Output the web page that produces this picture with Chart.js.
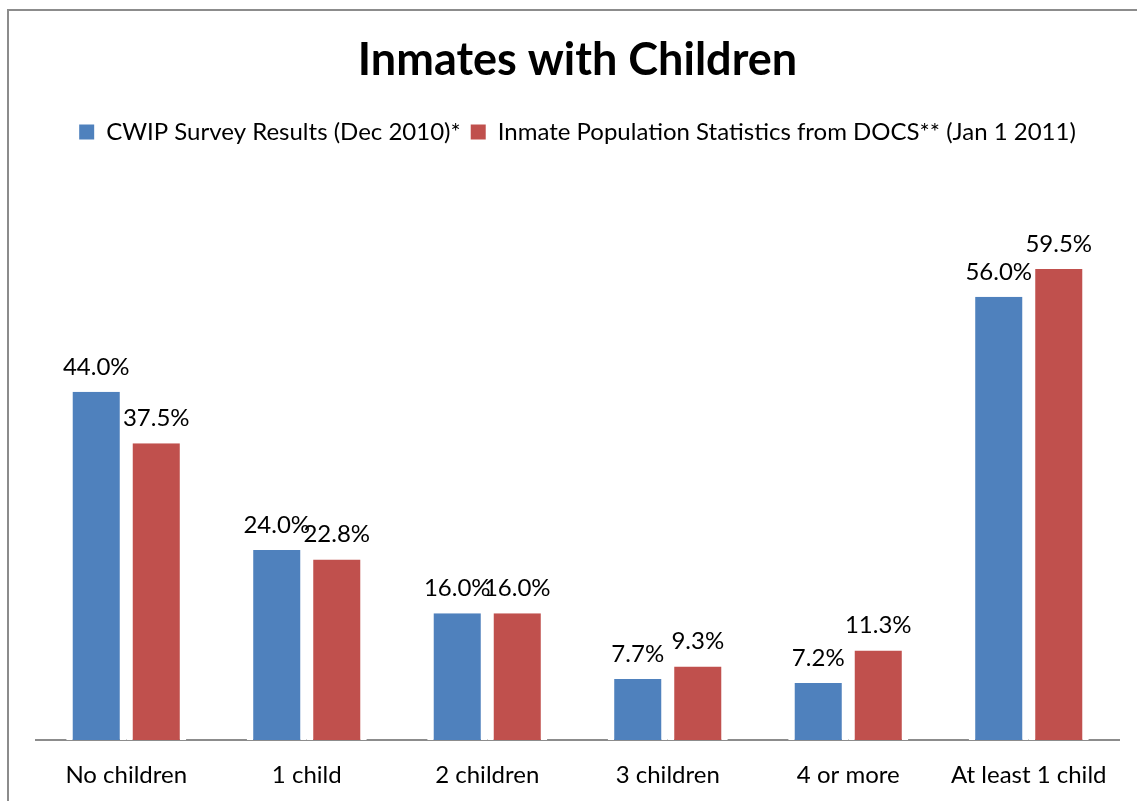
<!DOCTYPE html>
<html lang="en">
<head>
    <meta charset="UTF-8">
    <title>Inmates with Children</title>
    <script src="https://cdn.jsdelivr.net/npm/chart.js"></script>
    <style>
        body {
            margin: 0;
            background: white;
            overflow: hidden;
        }

        .frame {
            position: absolute;
            left: 7px;
            top: 9px;
            width: 1200px;
            height: 900px;
            border: 2px solid #8c8c8c;
        }

        #chart {
            position: absolute;
            left: 0;
            top: 0;
        }
    </style>
</head>
<body>
    <div class="frame"></div>
    <canvas id="chart" width="1137" height="801"></canvas>

    <script>
        // Data
        const categories = ['No children', '1 child', '2 children', '3 children', '4 or more', 'At least 1 child'];
        const surveyValues = [44.0, 24.0, 16.0, 7.7, 7.2, 56.0];
        const docsValues = [37.5, 22.8, 16.0, 9.3, 11.3, 59.5];
        const seriesNames = ['CWIP Survey Results (Dec 2010)*', 'Inmate Population Statistics from DOCS** (Jan 1 2011)'];

        const FONT = 'Lato, "Open Sans", sans-serif';

        // Extra space below the legend
        const legendMargin = {
            id: 'legendMargin',
            beforeInit(chart) {
                const fit = chart.legend.fit;
                chart.legend.fit = function () {
                    fit.bind(chart.legend)();
                    this.height += 32;
                };
            }
        };

        // Value labels above bars
        const valueLabels = {
            id: 'valueLabels',
            afterDatasetsDraw(chart) {
                const ctx = chart.ctx;
                ctx.save();
                ctx.font = '24px ' + FONT;
                ctx.fillStyle = '#000';
                ctx.textAlign = 'center';
                ctx.textBaseline = 'bottom';
                chart.data.datasets.forEach((ds, i) => {
                    chart.getDatasetMeta(i).data.forEach((bar, j) => {
                        ctx.fillText(ds.data[j].toFixed(1) + '%', bar.x, bar.y - 13);
                    });
                });
                ctx.restore();
            }
        };

        new Chart(document.getElementById('chart'), {
            type: 'bar',
            data: {
                labels: categories,
                datasets: [
                    {
                        label: seriesNames[0],
                        data: surveyValues,
                        backgroundColor: '#4f81bd',
                        borderColor: '#ffffff',
                        borderWidth: { left: 6.5, right: 6.5, top: 0, bottom: 0 },
                        borderSkipped: false
                    },
                    {
                        label: seriesNames[1],
                        data: docsValues,
                        backgroundColor: '#c0504d',
                        borderColor: '#ffffff',
                        borderWidth: { left: 6.5, right: 6.5, top: 0, bottom: 0 },
                        borderSkipped: false
                    }
                ]
            },
            options: {
                responsive: false,
                animation: false,
                categoryPercentage: 0.665,
                barPercentage: 1,
                layout: {
                    padding: { left: 36, right: 18, top: 0, bottom: 0 }
                },
                plugins: {
                    title: {
                        display: true,
                        text: 'Inmates with Children',
                        color: '#000',
                        font: { family: FONT, size: 45, weight: 'bold' },
                        padding: { top: 33, bottom: 23 }
                    },
                    legend: {
                        position: 'top',
                        labels: {
                            color: '#000',
                            font: { family: FONT, size: 24 },
                            boxWidth: 15,
                            boxHeight: 15,
                            padding: 10,
                            generateLabels(chart) {
                                return chart.data.datasets.map((ds, i) => ({
                                    text: ds.label,
                                    fillStyle: ds.backgroundColor,
                                    strokeStyle: ds.backgroundColor,
                                    lineWidth: 0,
                                    hidden: false,
                                    datasetIndex: i
                                }));
                            }
                        }
                    },
                    tooltip: { enabled: false }
                },
                scales: {
                    x: {
                        grid: { display: false },
                        border: { display: true, color: '#8c8c8c', width: 2 },
                        ticks: {
                            color: '#000',
                            font: { family: FONT, size: 24 },
                            padding: 13
                        },
                        afterFit(scale) {
                            scale.height = 61;
                        }
                    },
                    y: {
                        display: false,
                        min: 0,
                        max: 70
                    }
                }
            },
            plugins: [legendMargin, valueLabels]
        });
    </script>
</body>
</html>
